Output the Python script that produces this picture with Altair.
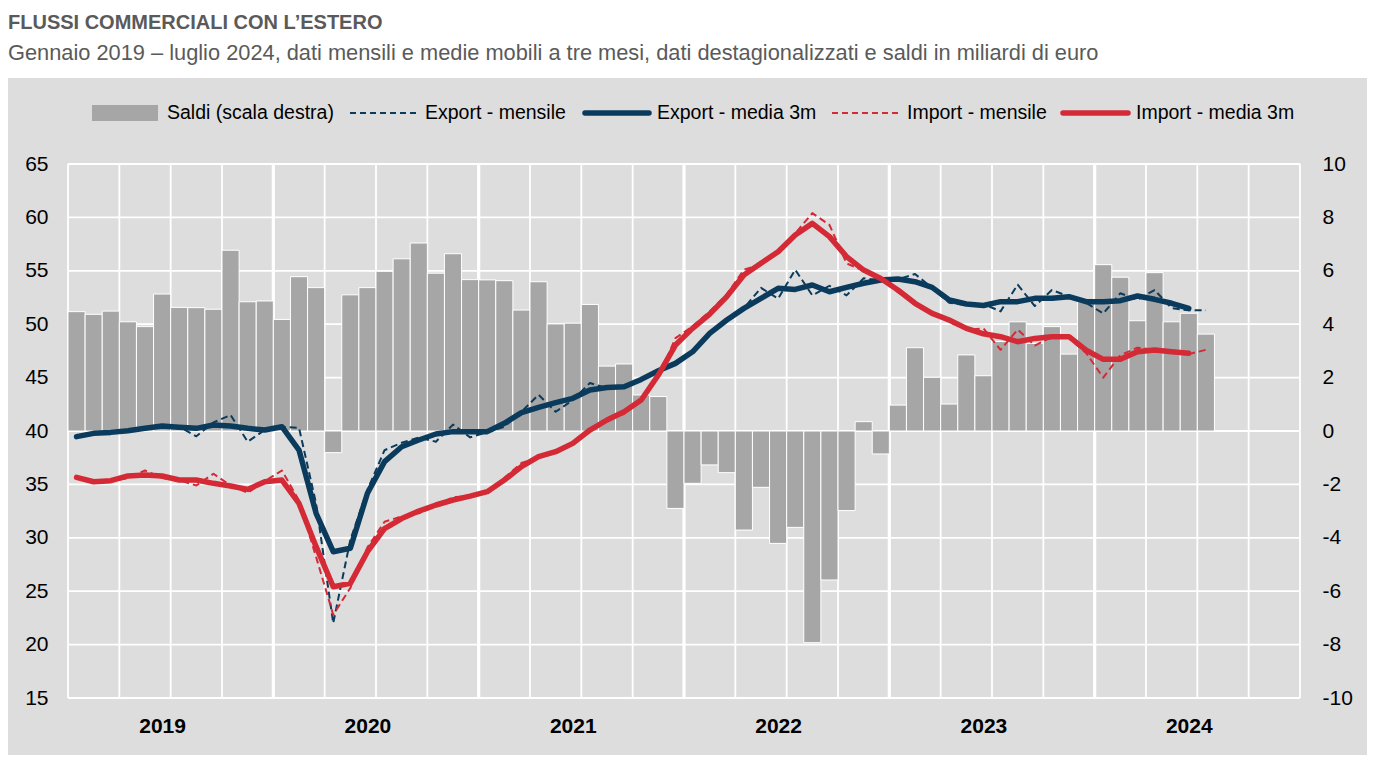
import altair as alt
import pandas as pd

# ---------------- data ----------------
years = [2019, 2020, 2021, 2022, 2023, 2024]

saldi = [
    4.47, 4.37, 4.49, 4.09, 3.91, 5.13, 4.63, 4.62, 4.56, 6.77, 4.84, 4.87,
    4.18, 5.78, 5.37, -0.81, 5.10, 5.37, 5.98, 6.45, 7.04, 5.91, 6.64, 5.67,
    5.66, 5.63, 4.53, 5.59, 4.01, 4.04, 4.74, 2.43, 2.51, 1.35, 1.29, -2.90,
    -1.96, -1.27, -1.56, -3.71, -2.11, -4.21, -3.61, -7.93, -5.58, -2.98, 0.35, -0.86,
    0.97, 3.12, 2.01, 1.01, 2.85, 2.07, 3.35, 4.09, 3.28, 3.91, 2.88, 4.84,
    6.23, 5.76, 4.13, 5.93, 4.09, 4.41, 3.63,
]

export_m = [
    39.4, 39.9, 39.9, 40.0, 40.3, 40.5, 40.4, 39.5, 40.8, 41.5, 39.0, 40.1,
    40.4, 40.3, 33.2, 22.0, 29.8, 34.5, 38.2, 38.9, 39.4, 39.0, 40.6, 39.4,
    39.9, 40.4, 41.8, 43.4, 41.8, 42.9, 44.5, 44.0, 44.2, 44.8, 45.6, 46.2,
    47.5, 49.1, 50.5, 51.5, 53.4, 52.4, 55.1, 52.7, 53.6, 52.7, 54.3, 54.1,
    54.2, 54.7, 53.4, 52.0, 51.8, 51.9, 51.2, 53.7, 51.7, 53.2, 52.6, 52.0,
    51.0, 52.9, 52.3, 53.2, 51.5, 51.3, 51.3,
]

export_3m = [
    39.47, 39.78, 39.87, 40.03, 40.25, 40.47, 40.35, 40.25, 40.56, 40.47, 40.25, 40.09,
    40.40, 38.22, 32.29, 28.70, 29.02, 34.17, 37.13, 38.53, 39.16, 39.72, 39.94, 39.94,
    39.94, 40.72, 41.72, 42.21, 42.65, 43.06, 43.84, 44.08, 44.15, 44.83, 45.64, 46.33,
    47.42, 49.14, 50.39, 51.48, 52.42, 53.36, 53.26, 53.67, 53.04, 53.45, 53.83, 54.14,
    54.23, 53.98, 53.45, 52.27, 51.89, 51.75, 52.11, 52.11, 52.42, 52.42, 52.58, 52.11,
    52.11, 52.20, 52.64, 52.33, 51.96, 51.48,
]

import_m = [
    35.7, 35.3, 35.3, 35.6, 36.3, 35.6, 35.4, 34.9, 36.0, 34.9, 34.2, 35.3,
    36.3, 33.5, 28.2, 22.8, 25.3, 29.1, 31.5, 32.0, 32.3, 33.0, 33.8, 33.9,
    34.2, 35.6, 37.0, 37.5, 38.1, 38.8, 40.2, 41.2, 41.6, 43.0, 45.0, 48.7,
    49.8, 51.2, 52.8, 55.1, 55.6, 56.8, 58.5, 60.4, 59.3, 55.7, 55.0, 54.3,
    53.0, 52.0, 51.0, 50.2, 49.5, 49.6, 47.6, 49.5, 48.0, 48.8, 48.7, 47.3,
    45.0, 47.1, 47.8, 47.6, 47.3, 47.2, 47.6,
]

import_3m = [
    35.66, 35.25, 35.35, 35.79, 35.88, 35.79, 35.41, 35.41, 35.10, 34.85, 34.53, 35.25,
    35.41, 33.22, 29.17, 25.42, 25.73, 28.70, 30.86, 31.80, 32.50, 33.07, 33.54, 33.90,
    34.32, 35.41, 36.66, 37.60, 38.06, 38.84, 40.09, 41.03, 41.80, 42.90, 45.24, 48.05,
    49.61, 50.95, 52.58, 54.61, 55.70, 56.79, 58.35, 59.44, 58.20, 56.33, 55.07, 54.28,
    53.20, 51.96, 51.01, 50.39, 49.61, 49.10, 48.83, 48.36, 48.67, 48.83, 48.83, 47.58,
    46.71, 46.71, 47.42, 47.58, 47.42, 47.27,
]

left_ticks = [15, 20, 25, 30, 35, 40, 45, 50, 55, 60, 65]
right_ticks = [-10, -8, -6, -4, -2, 0, 2, 4, 6, 8, 10]

TITLE = "FLUSSI COMMERCIALI CON L\u2019ESTERO"
SUBTITLE = ("Gennaio 2019 \u2013 luglio 2024, dati mensili e medie mobili a tre mesi, "
            "dati destagionalizzati e saldi in miliardi di euro")
LEGEND = ["Saldi (scala destra)", "Export - mensile", "Export - media 3m",
          "Import - mensile", "Import - media 3m"]

# ---------------- styling ----------------
NAVY = "#0b3b5c"
RED = "#d42a36"
BAR = "#a6a6a6"
PANEL = "#dddddd"
TITLE_COL = "#5a5a5a"
FONT = "Liberation Sans Narrow, Arial Narrow, Liberation Sans, Arial, sans-serif"

W, H = 1232, 534
N_MONTHS = 12 * len(years)

# ---------------- frames ----------------
bars_df = pd.DataFrame({
    "x0": list(range(len(saldi))),
    "x1": [i + 1 for i in range(len(saldi))],
    "saldo": saldi,
})

def series_df(vals):
    return pd.DataFrame({"t": [i + 0.5 for i in range(len(vals))], "v": vals})

qgrid_df = pd.DataFrame({"q": list(range(0, N_MONTHS + 1, 3))})
ygrid_df = pd.DataFrame({"q": list(range(12, N_MONTHS, 12))})
hgrid_df = pd.DataFrame({"r": right_ticks})
one = pd.DataFrame({"k": [0]})

x_scale = alt.Scale(domain=[0, N_MONTHS], nice=False, zero=False)
yl_scale = alt.Scale(domain=[left_ticks[0], left_ticks[-1]], nice=False, zero=False)
yr_scale = alt.Scale(domain=[right_ticks[0], right_ticks[-1]], nice=False, zero=False)

x_axis = alt.Axis(values=[5.5 + 12 * k for k in range(len(years))],
                  labelExpr="'' + (%d + floor(datum.value / 12))" % years[0],
                  grid=False, ticks=False, domain=False, title=None,
                  labelFont=FONT, labelFontSize=21, labelFontWeight="bold",
                  labelColor="black", labelPadding=17, zindex=1)
left_axis = alt.Axis(values=left_ticks, orient="left", grid=False, ticks=False,
                     domain=False, title=None, labelFont=FONT, labelFontSize=21,
                     labelColor="black", labelPadding=20, zindex=1)
right_axis = alt.Axis(values=right_ticks, orient="right", grid=False, ticks=False,
                      domain=False, title=None, labelFont=FONT, labelFontSize=21,
                      labelExpr="'' + datum.value",
                      labelColor="black", labelPadding=22, zindex=1)

# ---------------- right-scale group ----------------
panel = alt.Chart(one).mark_rect(color=PANEL).encode(
    x=alt.value(-60), x2=alt.value(1299), y=alt.value(-86), y2=alt.value(591))

qgrid = alt.Chart(qgrid_df).mark_rule(color="white", strokeWidth=1.8).encode(
    x=alt.X("q:Q", scale=x_scale, axis=x_axis, title=None),
    y=alt.value(0), y2=alt.value(H))

ygrid = alt.Chart(ygrid_df).mark_rule(color="white", strokeWidth=3.2).encode(
    x=alt.X("q:Q", scale=x_scale, axis=x_axis, title=None),
    y=alt.value(0), y2=alt.value(H))

hgrid = alt.Chart(hgrid_df).mark_rule(color="white", strokeWidth=1.8).encode(
    y=alt.Y("r:Q", scale=yr_scale, axis=right_axis, title=None),
    x=alt.value(0), x2=alt.value(W))

bars = alt.Chart(bars_df).mark_rect(color=BAR, stroke="white", strokeWidth=1).encode(
    x=alt.X("x0:Q", scale=x_scale, axis=x_axis, title=None),
    x2="x1:Q",
    y=alt.Y("saldo:Q", scale=yr_scale, axis=right_axis, title=None),
    y2=alt.datum(0))

right_group = alt.layer(panel, qgrid, ygrid, hgrid, bars)

# ---------------- left-scale group ----------------
def line(vals, color, width, dash=None):
    kw = dict(color=color, strokeWidth=width, strokeJoin="round", strokeCap="round")
    if dash:
        kw["strokeDash"] = dash
        kw["strokeCap"] = "butt"
    return alt.Chart(series_df(vals)).mark_line(**kw).encode(
        x=alt.X("t:Q", scale=x_scale, axis=x_axis, title=None),
        y=alt.Y("v:Q", scale=yl_scale, axis=left_axis, title=None))

l_exp_m = line(export_m, NAVY, 2, [7, 4])
l_exp_3 = line(export_3m, NAVY, 5.5)
l_imp_m = line(import_m, RED, 2, [7, 4])
l_imp_3 = line(import_3m, RED, 5.5)

def text(s, x, y, size, weight="normal", color="black"):
    return alt.Chart(one).mark_text(align="left", baseline="alphabetic", font=FONT,
                                    fontSize=size, fontWeight=weight, color=color).encode(
        x=alt.value(x), y=alt.value(y), text=alt.value(s))

title = text(TITLE, -60, -135, 20, "bold", TITLE_COL)
subtitle = text(SUBTITLE, -60, -104, 21.8, "normal", TITLE_COL)

LY = -51
leg_rect = alt.Chart(one).mark_rect(color=BAR).encode(
    x=alt.value(24), x2=alt.value(90), y=alt.value(LY - 8), y2=alt.value(LY + 8))

def leg_line(x1, x2, color, width, dash=None):
    kw = dict(color=color, strokeWidth=width, strokeCap="round")
    if dash:
        kw["strokeDash"] = dash
        kw["strokeCap"] = "butt"
    return alt.Chart(one).mark_rule(**kw).encode(
        x=alt.value(x1), x2=alt.value(x2), y=alt.value(LY))

def leg_text(s, x):
    return alt.Chart(one).mark_text(align="left", baseline="middle", font=FONT,
                                    fontSize=19.5, color="black").encode(
        x=alt.value(x), y=alt.value(LY), text=alt.value(s))

legend = [
    leg_rect, leg_text(LEGEND[0], 99),
    leg_line(282, 350, NAVY, 2, [6, 4]), leg_text(LEGEND[1], 357),
    leg_line(517, 581, NAVY, 5.5), leg_text(LEGEND[2], 589),
    leg_line(764, 830, RED, 2, [6, 4]), leg_text(LEGEND[3], 839),
    leg_line(995, 1060, RED, 5.5), leg_text(LEGEND[4], 1068),
]

left_group = alt.layer(l_exp_m, l_exp_3, l_imp_m, l_imp_3, title, subtitle, *legend)

chart = alt.layer(right_group, left_group).resolve_scale(y="independent").properties(
    width=W, height=H,
    padding={"left": 68, "top": 164, "right": 77, "bottom": 65},
    autosize=alt.AutoSizeParams(type="none"),
    background="white",
).configure_view(stroke=None)

chart.save("out.html", embed_options={"renderer": "svg", "actions": False})
